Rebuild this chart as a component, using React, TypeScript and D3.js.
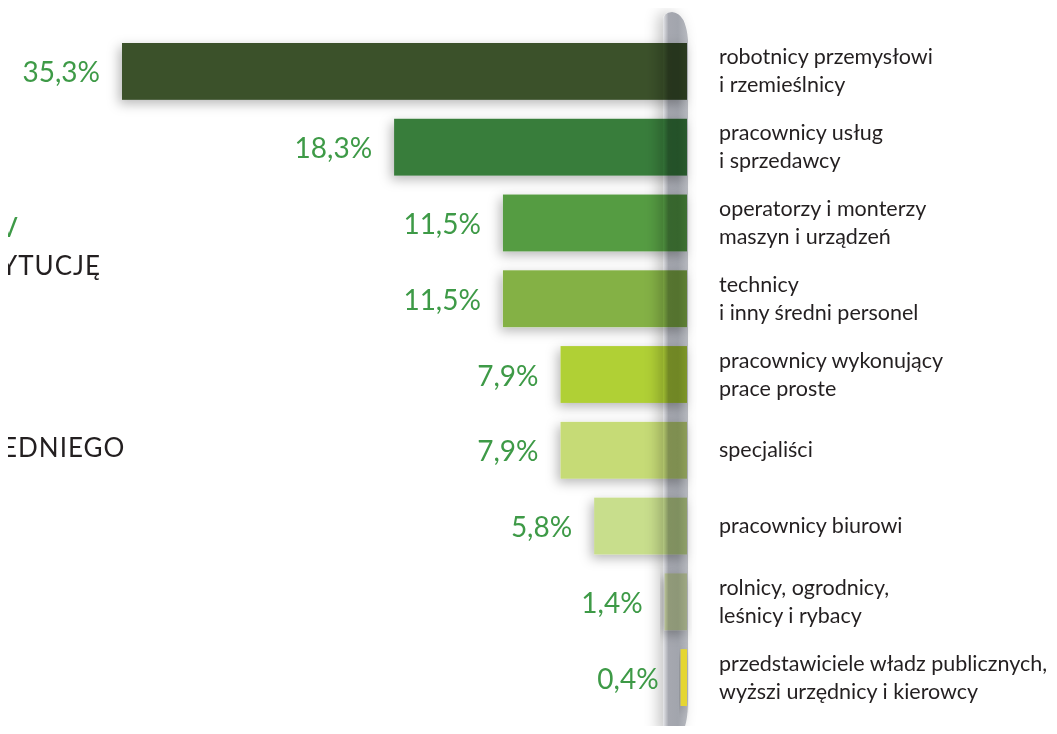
import React from "react";
import * as d3 from "d3";

const categories: string[][] = [
  ["robotnicy przemysłowi", "i rzemieślnicy"],
  ["pracownicy usług", "i sprzedawcy"],
  ["operatorzy i monterzy", "maszyn i urządzeń"],
  ["technicy", "i inny średni personel"],
  ["pracownicy wykonujący", "prace proste"],
  ["specjaliści"],
  ["pracownicy biurowi"],
  ["rolnicy, ogrodnicy,", "leśnicy i rybacy"],
  ["przedstawiciele władz publicznych,", "wyższi urzędnicy i kierowcy"],
];
const values: number[] = [35.3, 18.3, 11.5, 11.5, 7.9, 7.9, 5.8, 1.4, 0.4];
const valueLabels: string[] = ["35,3%", "18,3%", "11,5%", "11,5%", "7,9%", "7,9%", "5,8%", "1,4%", "0,4%"];
const barColors: string[] = [
  "#3b512a",
  "#387d3b",
  "#559c42",
  "#84b144",
  "#b0d036",
  "#c6db76",
  "#c8de8c",
  "#dfeab0",
  "#e5d632",
];
const sideTexts = [
  { text: "V", color: "#3e9a47", x: 0, y: 230 },
  { text: "YTUCJĘ", color: "#231f20", x: 1, y: 268 },
  { text: "EDNIEGO", color: "#231f20", x: 2, y: 450 },
];

const W = 1057;
const H = 734;
const BASE_X = 687;

export default function App() {
  const idx = values.map((_, i) => String(i));
  const y = d3.scaleBand<string>().domain(idx).range([43, 706]).paddingInner(0.25).paddingOuter(0);
  const x = d3.scaleLinear().domain([0, 35.3]).range([0, 565]);
  const bw = y.bandwidth();
  const font = "Lato, 'Open Sans', sans-serif";
  const last = values.length - 1;

  const spinePath = `M663,734 L663,22 Q663,12 672,12 Q686,13 688,40 L688,700 Q688,726 681,734 Z`;

  const bar = (v: number, i: number) => (
    <rect
      key={i}
      x={BASE_X - x(v)}
      y={y(String(i))!}
      width={x(v)}
      height={bw}
      fill={barColors[i]}
      filter="url(#barShadow)"
    />
  );

  return (
    <div style={{ margin: -8, width: W, height: H, overflow: "hidden", background: "#fff" }}>
      <svg width={W} height={H} style={{ display: "block" }}>
        <defs>
          <filter id="barShadow" x="-20%" y="-40%" width="140%" height="190%">
            <feDropShadow dx={-3} dy={4} stdDeviation={6} floodColor="#000" floodOpacity={0.28} />
          </filter>
          <filter id="spineShadow" x="-200%" y="-5%" width="400%" height="110%">
            <feDropShadow dx={-5} dy={0} stdDeviation={7} floodColor="#000" floodOpacity={0.22} />
          </filter>
          <linearGradient id="spineGrad" x1="0" x2="1" y1="0" y2="0">
            <stop offset="0" stopColor="#e6e7ea" />
            <stop offset="0.22" stopColor="#a6a8b0" />
            <stop offset="0.6" stopColor="#a2a5ad" />
            <stop offset="1" stopColor="#b8bac0" />
          </linearGradient>
        </defs>

        {sideTexts.map((t, i) => (
          <text
            key={i}
            x={t.x}
            y={t.y}
            fill={t.color}
            fontFamily={font}
            fontSize={26}
            letterSpacing={1}
            dominantBaseline="middle"
          >
            {t.text}
          </text>
        ))}

        {values.map((v, i) => (i < last ? bar(v, i) : null))}

        <path d={spinePath} fill="url(#spineGrad)" filter="url(#spineShadow)" style={{ mixBlendMode: "multiply" }} />

        {bar(values[last], last)}

        {values.map((v, i) => (
          <text
            key={i}
            x={BASE_X - x(v) - 22}
            y={y(String(i))! + bw / 2}
            textAnchor="end"
            dominantBaseline="central"
            fill="#3e9a47"
            fontFamily={font}
            fontSize={28}
          >
            {valueLabels[i]}
          </text>
        ))}

        {categories.map((lines, i) => {
          const cy = y(String(i))! + bw / 2;
          const lh = 28;
          const start = cy - ((lines.length - 1) * lh) / 2 - 1;
          return (
            <text key={i} fill="#231f20" fontFamily={font} fontSize={21.5}>
              {lines.map((l, j) => (
                <tspan key={j} x={719} y={start + j * lh} dominantBaseline="central">
                  {l}
                </tspan>
              ))}
            </text>
          );
        })}
      </svg>
    </div>
  );
}
